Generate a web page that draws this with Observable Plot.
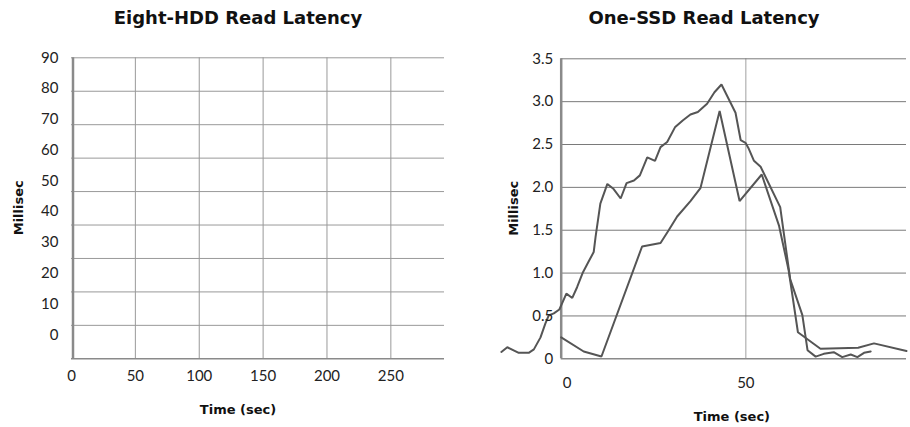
<!DOCTYPE html>
<html>
<head>
<meta charset="utf-8">
<script src="https://cdn.jsdelivr.net/npm/d3@7"></script>
<script src="https://cdn.jsdelivr.net/npm/@observablehq/plot@0.6"></script>
<style>
  html, body { margin: 0; padding: 0; background: #fff; }
  #wrap { position: relative; width: 910px; height: 427px; overflow: hidden; }
  .title { position: absolute; top: 6px; width: 400px; text-align: center;
           font-family: "DejaVu Sans", Verdana, sans-serif; font-weight: bold;
           font-size: 18px; line-height: 24px; color: #111; }
  .panel { position: absolute; top: 40px; }
</style>
</head>
<body>
<div id="wrap">
  <div class="title" id="t1" style="left:38px">Eight-HDD Read Latency</div>
  <div class="title" id="t2" style="left:504px">One-SSD Read Latency</div>
  <div class="panel" id="p1" style="left:0px"></div>
  <div class="panel" id="p2" style="left:455px"></div>
</div>
<script>
// ---------- Data ----------
// Left panel (empty chart: axes only)
const hddTicksX = [0, 50, 100, 150, 200, 250];
const hddTicksY = [0, 10, 20, 30, 40, 50, 60, 70, 80, 90];
const hddLabelSqueeze = 0.92; // tick labels in the original drift away from the grid lines

// Right panel
const ssdTicksX = [0, 50];
const ssdTicksY = [0, 0.5, 1.0, 1.5, 2.0, 2.5, 3.0, 3.5];
const ssdTickLabelsY = ["0", "0.5", "1.0", "1.5", "2.0", "2.5", "3.0", "3.5"];

// Series A (rises early, peaks ~3.2)
const ssdA_time = [-16.2, -14.6, -11.5, -8.8, -7.4, -5.6, -4.3, -3.4, -2.0, -0.5, 1.4, 3.0, 4.3, 5.9, 7.5, 8.8,
  9.3, 10.6, 12.5, 14.2, 16.1, 17.7, 19.7, 21.3, 23.3, 25.4, 26.9, 28.7, 30.8, 32.9, 35.0, 37.0, 39.5, 41.5, 43.4,
  47.2, 48.6, 49.9, 50.8, 52.2, 54.0, 59.3, 62.0, 65.3, 66.7, 68.9, 71.1, 73.8, 76.1, 78.4, 80.2, 82.0, 83.8];
const ssdA_ms = [0.08, 0.135, 0.07, 0.07, 0.11, 0.25, 0.41, 0.505, 0.53, 0.575, 0.76, 0.71, 0.835, 1.01, 1.14, 1.245,
  1.42, 1.81, 2.04, 1.98, 1.87, 2.05, 2.08, 2.14, 2.35, 2.31, 2.47, 2.53, 2.70, 2.78, 2.85, 2.88, 2.975, 3.11, 3.20,
  2.87, 2.55, 2.52, 2.45, 2.31, 2.24, 1.77, 0.93, 0.51, 0.10, 0.025, 0.058, 0.077, 0.02, 0.05, 0.02, 0.07, 0.085];

// Series B (starts at 0.25, peaks ~2.9)
const ssdB_time = [0, 6.1, 10.9, 21.9, 26.9, 29.1, 31.4, 35.0, 37.7, 42.9, 48.3, 54.3, 59.0, 61.6, 64.1, 70.2, 80.4, 84.7, 93.5];
const ssdB_ms = [0.25, 0.085, 0.027, 1.31, 1.35, 1.50, 1.66, 1.84, 1.99, 2.89, 1.84, 2.15, 1.55, 1.03, 0.31, 0.117, 0.128, 0.18, 0.09];

// ---------- Build ----------
const tickFont = {fontFamily: "Lato, 'DejaVu Sans', sans-serif", fontSize: 15, fill: "#222"};
const titleFont = {fontFamily: "'DejaVu Sans', Verdana, sans-serif", fontSize: 13, fontWeight: "bold", fill: "#111"};

const seriesA = ssdA_time.map((t, i) => ({t, ms: ssdA_ms[i]}));
const seriesB = ssdB_time.map((t, i) => ({t, ms: ssdB_ms[i]}));

const left = Plot.plot({
  width: 455, height: 387,
  marginLeft: 71, marginRight: 11, marginTop: 17.3, marginBottom: 68.7,
  x: {domain: [0, 292], axis: null},
  y: {domain: [0, 90], axis: null},
  style: {background: "transparent", overflow: "visible"},
  marks: [
    Plot.ruleX(hddTicksX.filter(d => d > 0), {stroke: "#999", strokeWidth: 1}),
    Plot.ruleY(hddTicksY.filter(d => d > 0), {stroke: "#999", strokeWidth: 1}),
    Plot.ruleY([0], {stroke: "#8a8a8a", strokeWidth: 1.5}),
    Plot.ruleX([0], {stroke: "#8a8a8a", strokeWidth: 2.5, dx: 1.5}),
    Plot.text(hddTicksY, {y: d => 90 - (90 - d) * hddLabelSqueeze, text: d => String(d),
      frameAnchor: "left", textAnchor: "end", dx: -13, ...tickFont}),
    Plot.text(hddTicksX, {x: d => d, text: d => String(d), frameAnchor: "bottom",
      lineAnchor: "middle", dy: 17, ...tickFont}),
    Plot.text(["Time (sec)"], {frameAnchor: "bottom", lineAnchor: "middle", dy: 51, dx: -20, ...titleFont}),
    Plot.text(["Millisec"], {frameAnchor: "left", rotate: -90, dx: -53, dy: 27, ...titleFont})
  ]
});

const right = Plot.plot({
  width: 455, height: 387,
  marginLeft: 105.7, marginRight: 4, marginTop: 18.3, marginBottom: 68.7,
  x: {domain: [0, 93.5], axis: null},
  y: {domain: [0, 3.5], axis: null},
  style: {background: "transparent", overflow: "visible"},
  marks: [
    Plot.ruleX(ssdTicksX.filter(d => d > 0), {stroke: "#a0a0a0", strokeWidth: 1}),
    Plot.ruleY(ssdTicksY.filter(d => d > 0), {stroke: "#7a7a7a", strokeWidth: 1}),
    Plot.ruleY([0], {stroke: "#8a8a8a", strokeWidth: 1.5}),
    Plot.ruleX([0], {stroke: "#8a8a8a", strokeWidth: 2.5}),
    Plot.line(seriesB, {x: "t", y: "ms", stroke: "#555", strokeWidth: 2, strokeLinejoin: "miter"}),
    Plot.line(seriesA, {x: "t", y: "ms", stroke: "#555", strokeWidth: 2, strokeLinejoin: "miter"}),
    Plot.text(ssdTicksY, {y: d => d, text: (d, i) => ssdTickLabelsY[i],
      frameAnchor: "left", textAnchor: "end", dx: -8, ...tickFont}),
    Plot.text(ssdTicksX.slice(0, 1), {x: d => d, text: d => String(d), frameAnchor: "bottom",
      lineAnchor: "middle", dy: 24.4, dx: 6, ...tickFont}),
    Plot.text(ssdTicksX.slice(1), {x: d => d, text: d => String(d), frameAnchor: "bottom",
      lineAnchor: "middle", dy: 24.4, ...tickFont}),
    Plot.text(["Time (sec)"], {frameAnchor: "bottom", lineAnchor: "middle", dy: 58, dx: -2, ...titleFont}),
    Plot.text(["Millisec"], {frameAnchor: "left", rotate: -90, dx: -47.4, dy: 27, ...titleFont})
  ]
});

document.getElementById("p1").appendChild(left);
document.getElementById("p2").appendChild(right);
</script>
</body>
</html>
